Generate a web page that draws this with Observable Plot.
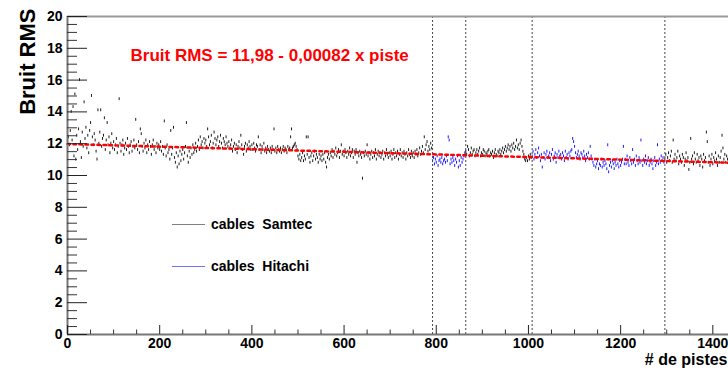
<!DOCTYPE html>
<html>
<head>
<meta charset="utf-8">
<script src="https://cdn.jsdelivr.net/npm/d3@7"></script>
<script src="https://cdn.jsdelivr.net/npm/@observablehq/plot@0.6"></script>
<style>
  body { margin: 0; background: white; }
  #wrap { position: relative; width: 728px; height: 372px; overflow: hidden; font-family: "Liberation Sans", Arial, sans-serif; }
  .leg { position: absolute; display: flex; align-items: center; font-weight: bold; font-size: 14px; white-space: pre; color: #000; }
  .leg .sw { display: inline-block; width: 33px; height: 0; margin-right: 6px; }
</style>
</head>
<body>
<div id="wrap"></div>
<script>
// Noise RMS per strip (one value every 2 strips)
const step = 2;
// Samtec cables, strips 0 - 790
const samtec1 = [
12.6,12.4,11.9,12.8,14.0,12.2,14.3,11.2,15.1,11.0,12.5,11.6,12.9,16.0,12.1,11.1,12.7,11.8,14.6,12.3,13.0,11.7,12.5,11.4,12.8,
13.3,15.0,12.4,11.9,12.6,12.2,11.5,11.0,14.1,12.0,12.7,14.1,11.8,12.3,12.5,13.6,11.6,12.2,13.3,11.9,12.4,11.4,12.0,12.6,11.7,
12.1,11.6,11.9,12.3,11.4,11.8,14.8,12.0,11.5,11.9,12.2,11.3,11.7,12.0,11.6,12.3,11.8,11.4,11.9,12.1,11.5,11.8,12.2,11.7,13.5,
11.9,11.6,12.1,11.4,12.9,12.6,11.8,11.5,12.0,11.7,12.2,11.4,11.9,11.6,12.1,11.8,11.3,11.9,12.2,11.6,11.8,11.4,12.0,11.7,11.9,
11.6,12.1,11.5,11.8,11.3,13.4,11.7,11.2,11.9,11.4,11.6,11.0,12.8,11.3,11.7,13.0,11.1,10.8,11.4,10.5,11.2,10.7,11.5,10.9,11.3,
11.6,11.0,11.4,11.8,13.3,11.2,10.8,11.5,11.1,11.7,11.3,11.9,11.4,11.6,12.0,11.5,11.8,12.2,11.6,12.4,11.9,12.1,11.7,12.3,12.0,
12.2,11.8,12.9,12.4,11.9,12.1,12.5,11.7,12.0,12.7,12.3,11.9,12.2,12.4,11.8,12.1,12.5,12.0,11.7,12.3,12.1,11.9,12.4,12.0,11.8,
12.1,11.7,11.9,12.2,11.5,11.8,12.0,11.6,11.9,11.4,11.8,12.1,11.7,12.5,11.9,11.6,11.3,11.8,12.0,11.5,11.9,11.7,12.1,11.8,11.6,
11.9,11.6,12.0,11.7,11.5,11.9,11.8,12.4,11.6,11.9,11.4,11.8,11.6,12.0,11.5,11.7,11.4,11.8,11.6,11.5,11.7,11.4,11.8,11.6,12.9,
11.5,11.7,11.4,11.8,11.6,11.5,11.7,11.4,11.6,11.8,11.5,11.7,11.6,11.4,11.8,11.6,11.7,12.4,12.9,11.7,11.8,11.9,12.0,11.8,11.6,
11.2,11.0,11.3,10.9,11.1,11.4,10.9,11.2,11.0,12.4,11.3,12.4,11.1,10.8,11.2,11.4,10.9,11.2,11.5,11.0,11.3,11.1,10.8,11.3,11.0,
11.2,10.9,11.3,11.0,11.4,10.8,10.5,11.1,11.3,11.0,11.4,11.2,11.6,11.1,11.5,11.3,11.7,11.2,11.4,11.6,11.1,11.5,11.9,11.3,11.5,
11.2,11.6,11.4,11.1,11.5,11.3,11.7,11.2,11.4,11.6,11.1,11.5,11.3,11.6,10.8,11.4,11.2,11.5,11.3,11.1,9.8,11.4,11.2,11.5,11.3,
11.9,11.2,11.4,11.0,11.3,11.5,11.1,11.4,11.2,11.6,11.0,11.3,11.5,11.2,11.4,11.1,11.3,11.5,11.0,11.4,11.2,11.6,11.3,11.1,11.4,
11.2,11.5,11.0,11.3,11.6,11.1,11.4,11.2,11.5,11.0,11.3,11.6,11.2,11.4,11.1,11.5,11.3,11.0,11.4,11.2,11.6,11.3,11.1,11.5,11.2,
11.4,11.1,11.5,11.3,11.6,11.2,11.4,11.7,11.3,11.5,11.8,11.4,12.4,11.6,11.9,12.1,11.5,11.8,11.6,12.0,11.7
];
// Hitachi cables, strips 792 - 862
const hitachi1 = [
10.9,11.1,10.7,11.0,10.8,11.2,10.6,10.9,11.0,10.8,11.1,10.7,10.9,11.0,10.8,11.2,10.9,12.4,
12.2,10.7,11.0,10.8,11.1,10.9,10.6,11.0,10.8,11.2,10.5,10.9,10.6,11.1,10.8,11.0,11.2,11.4
];
// Samtec cables, strips 864 - 1006
const samtec2 = [
11.5,11.3,11.8,11.6,11.2,11.4,11.7,11.3,11.5,11.6,11.2,11.4,11.6,11.3,11.5,11.7,11.2,11.4,11.3,11.6,11.5,11.2,11.4,11.3,11.5,
11.6,11.2,11.4,11.3,11.5,11.1,11.4,11.6,11.3,11.2,11.5,11.4,11.6,11.3,11.5,11.7,11.4,11.6,11.8,11.5,11.7,11.9,11.6,11.8,11.5,
11.9,11.7,12.0,11.6,11.8,12.2,11.7,11.9,11.6,12.0,12.2,11.8,11.5,11.3,11.0,10.9,11.1,10.9,11.2,11.0,11.3,11.1
];
// Hitachi cables, strips 1008 - 1294
const hitachi2 = [
11.2,11.5,11.0,11.3,11.6,11.1,11.4,11.7,11.2,10.9,11.3,10.5,11.1,11.4,11.0,11.3,11.5,11.1,11.2,11.4,10.9,11.3,11.6,11.0,11.2,11.4,10.8,11.3,11.1,11.5,11.2,
11.3,11.0,11.4,11.2,10.9,11.5,11.1,11.3,11.0,11.4,11.2,11.5,11.6,12.3,12.1,11.8,11.4,11.1,11.3,11.5,11.2,11.0,11.4,11.3,11.1,11.5,11.2,10.9,11.3,11.1,11.4,11.0,11.8,11.2,11.0,
10.8,10.6,11.0,10.5,10.7,10.9,10.4,10.7,10.6,11.0,10.5,10.8,10.6,10.9,10.7,10.4,11.9,10.2,10.6,10.8,10.5,10.9,10.7,10.4,10.8,10.6,11.0,10.7,10.5,10.9,10.6,10.8,11.0,11.8,10.7,
11.0,10.7,11.2,10.8,10.6,11.1,10.9,10.7,11.6,10.8,11.0,10.6,11.2,10.9,10.7,11.1,10.8,12.2,10.9,10.6,11.0,10.8,11.2,10.7,10.9,11.1,10.6,10.8,11.0,10.7,10.4,10.9,11.1,10.6,10.8,11.9,10.7,11.0,10.8,11.2,10.9,11.1,10.8
];
// Samtec cables, strips 1296 - 1434
const samtec3 = [
11.0,11.3,10.8,11.1,11.4,10.9,11.2,11.5,10.8,12.2,11.0,11.3,10.9,11.1,11.5,10.7,11.2,11.0,10.8,11.3,11.1,10.6,11.0,11.4,10.9,
11.1,10.35,10.8,12.3,11.0,11.2,10.7,11.4,11.0,10.8,11.3,10.9,11.1,10.6,11.2,11.0,10.5,11.3,10.9,11.1,12.7,12.1,10.8,11.2,10.6,
11.0,11.3,10.7,11.1,10.9,11.4,11.0,10.6,11.2,10.8,11.1,11.5,12.5,11.7,11.0,11.3,10.8,11.2,11.0,10.9
];
const segments = [
  {cable: "Samtec", start: 0, values: samtec1},
  {cable: "Hitachi", start: 792, values: hitachi1},
  {cable: "Samtec", start: 864, values: samtec2},
  {cable: "Hitachi", start: 1008, values: hitachi2},
  {cable: "Samtec", start: 1296, values: samtec3}
];
// boundaries between cable types (dashed lines)
const boundaries = [792, 864, 1008, 1296];
// linear fit from the title
const fitA = 11.98, fitB = -0.00082;
const xDomain = [0, 1434];
const yDomain = [0, 20];
const xMajor = [0, 200, 400, 600, 800, 1000, 1200, 1400];
const xMinor = d3.range(0, 1434, 50).filter(v => v % 200 !== 0);
const yMajor = [0, 2, 4, 6, 8, 10, 12, 14, 16, 18, 20];
const yMinor = d3.range(0, 20, 0.5).filter(v => v % 2 !== 0);
const title = "Bruit RMS = 11,98 - 0,00082 x piste";
const xLabel = "# de pistes";
const yLabel = "Bruit RMS";

const rows = segments.flatMap(s => s.values.map((v, i) => ({x: s.start + i * step, y: v, cable: s.cable})));
const fitLine = xDomain.map(x => ({x, y: fitA + fitB * x}));

const W = 728, H = 372, mL = 67, mR = 0, mT = 16, mB = 38;
const fw = W - mL - mR, fh = H - mT - mB;

const chart = Plot.plot({
  width: W, height: H,
  marginLeft: mL, marginRight: mR, marginTop: mT, marginBottom: mB,
  x: {domain: xDomain},
  y: {domain: yDomain},
  color: {domain: ["Samtec", "Hitachi"], range: ["black", "blue"]},
  style: {fontFamily: "'Liberation Sans', Arial, sans-serif", fontWeight: "bold", fontSize: "14px", background: "white", overflow: "hidden"},
  marks: [
    // data points as short vertical dashes
    Plot.ruleX(rows, {x: "x", y1: d => d.y - 0.09, y2: d => d.y + 0.09, stroke: "cable", strokeWidth: 0.9}),
    // cable boundaries
    Plot.ruleX(boundaries, {y1: yDomain[0], y2: yDomain[1], stroke: "#444", strokeDasharray: "2,2", strokeWidth: 1}),
    // fit line (dotted)
    Plot.line(fitLine, {x: "x", y: "y", stroke: "red", strokeWidth: 2.5, strokeDasharray: "2.5,3.5"}),
    // frame
    Plot.ruleX([xDomain[0]], {stroke: "#777", strokeWidth: 2}),
    Plot.ruleY([yDomain[0]], {stroke: "#777", strokeWidth: 2}),
    Plot.ruleY([yDomain[1]], {stroke: "#999", strokeWidth: 2}),
    // inside ticks
    Plot.tickY(yMajor, {stroke: "#222", insetRight: fw - 20}),
    Plot.tickY(yMinor, {stroke: "#333", insetRight: fw - 10}),
    Plot.tickX(xMajor, {stroke: "#222", insetTop: fh - 9}),
    Plot.tickX(xMinor, {stroke: "#333", insetTop: fh - 4.5}),
    // tick labels
    Plot.axisX(xMajor, {tickSize: 0, tickPadding: 4, label: null, fontSize: 14, tickFormat: d => String(d)}),
    Plot.axisY(yMajor, {tickSize: 0, tickPadding: 5, label: null, fontSize: 14, tickFormat: d => String(d)}),
    // axis titles and fit text
    Plot.text([yLabel], {frameAnchor: "top-left", rotate: -90, textAnchor: "end", dx: -48, dy: -8, fontSize: 22, fill: "black"}),
    Plot.text([xLabel], {frameAnchor: "bottom-right", textAnchor: "end", dx: -1, dy: 30, fontSize: 16, fill: "black"}),
    Plot.text([title], {frameAnchor: "top-left", textAnchor: "start", dx: 63, dy: 32, fontSize: 17, fill: "red"})
  ]
});

const wrap = document.getElementById("wrap");
wrap.appendChild(chart);

const legendItems = [
  {label: "cables\u00a0\u00a0Samtec", color: "#808080", top: 224},
  {label: "cables\u00a0\u00a0Hitachi", color: "#7070ff", top: 266}
];
for (const it of legendItems) {
  const d = document.createElement("div");
  d.className = "leg";
  d.style.left = "172px";
  d.style.top = (it.top - 9) + "px";
  d.style.height = "18px";
  const sw = document.createElement("span");
  sw.className = "sw";
  sw.style.borderTop = "1.5px solid " + it.color;
  d.appendChild(sw);
  const t = document.createElement("span");
  t.textContent = it.label;
  d.appendChild(t);
  wrap.appendChild(d);
}
</script>
</body>
</html>
